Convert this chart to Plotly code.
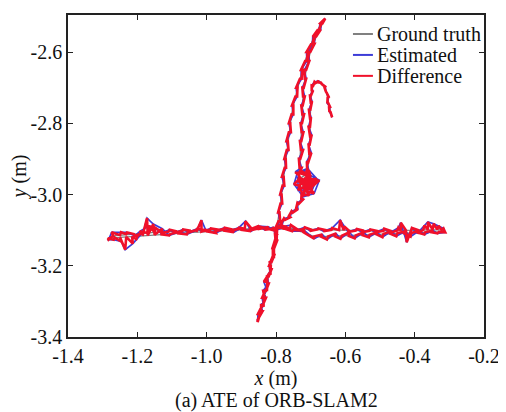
import plotly.graph_objects as go

gt_x = [
    -0.640, -0.643, -0.647, -0.650, -0.651, -0.654, -0.660, -0.668, -0.677, -0.686,
    -0.693, -0.697, -0.699, -0.700, -0.701, -0.702, -0.702, -0.702, -0.703, -0.704,
    -0.707, -0.710,
    -0.700, -0.693, -0.702, -0.718, -0.732, -0.730, -0.715, -0.700, -0.705, -0.722,
    -0.725, -0.710, -0.716,
    -0.708, -0.720, -0.713, -0.704, -0.716, -0.724, -0.710, -0.706,
    -0.712,
    -0.722, -0.727, -0.734, -0.742, -0.752, -0.763, -0.774, -0.786, -0.797,
    -0.780, -0.760, -0.740, -0.720, -0.700, -0.680, -0.660, -0.640, -0.618, -0.605,
    -0.590, -0.570, -0.550, -0.530, -0.510, -0.490, -0.470, -0.450, -0.440, -0.425,
    -0.410, -0.390, -0.375, -0.362, -0.348, -0.335, -0.322, -0.314,
    -0.330, -0.350, -0.370, -0.390, -0.410, -0.430, -0.450, -0.470, -0.490, -0.510,
    -0.530, -0.550, -0.570, -0.590, -0.610, -0.630, -0.650, -0.670, -0.690,
    -0.720, -0.750, -0.775, -0.800, -0.825, -0.850, -0.875, -0.900, -0.925, -0.950,
    -0.975, -1.000, -1.015, -1.030, -1.055, -1.080, -1.105, -1.130, -1.150, -1.170,
    -1.185, -1.200, -1.215, -1.232, -1.250, -1.265, -1.285,
    -1.270, -1.250, -1.230, -1.210, -1.190, -1.170, -1.150, -1.130, -1.110, -1.090,
    -1.070, -1.050, -1.030, -1.010, -0.990, -0.970, -0.950, -0.930, -0.910, -0.890,
    -0.870, -0.850, -0.830, -0.810,
    -0.798, -0.801, -0.805, -0.809, -0.813, -0.817, -0.821, -0.825, -0.829, -0.833,
    -0.838, -0.843, -0.849, -0.853,
    -0.846, -0.840, -0.835, -0.830, -0.825, -0.820, -0.815, -0.810, -0.806, -0.802,
    -0.797, -0.793, -0.790, -0.787, -0.784, -0.781, -0.778, -0.775, -0.772, -0.769,
    -0.766, -0.763, -0.759, -0.755, -0.750, -0.744, -0.738, -0.731, -0.724, -0.716,
    -0.708, -0.699, -0.690, -0.680, -0.670, -0.661,
    -0.666, -0.675, -0.684, -0.693, -0.701, -0.708, -0.713, -0.717, -0.720, -0.722,
    -0.723, -0.724, -0.725, -0.726, -0.727, -0.728, -0.730, -0.732, -0.735,
]
gt_y = [
    -2.780, -2.768, -2.755, -2.742, -2.728, -2.714, -2.700, -2.690, -2.685, -2.687,
    -2.695, -2.708, -2.722, -2.740, -2.762, -2.785, -2.810, -2.835, -2.860, -2.885,
    -2.910, -2.935,
    -2.950, -2.966, -2.983, -2.988, -2.975, -2.954, -2.945, -2.958, -2.976, -2.980,
    -2.960, -2.962, -2.970,
    -2.955, -2.966, -2.978, -2.968, -2.952, -2.972, -2.982, -2.962,
    -2.990,
    -3.000, -3.012, -3.026, -3.039, -3.051, -3.061, -3.071, -3.082, -3.092,
    -3.095, -3.096, -3.097, -3.097, -3.098, -3.098, -3.099, -3.099, -3.100, -3.100,
    -3.101, -3.101, -3.101, -3.102, -3.102, -3.102, -3.102, -3.101, -3.101, -3.101,
    -3.100, -3.100, -3.099, -3.099, -3.098, -3.098, -3.099, -3.102,
    -3.105, -3.106, -3.106, -3.107, -3.108, -3.109, -3.109, -3.110, -3.111, -3.112,
    -3.113, -3.114, -3.115, -3.116, -3.116, -3.117, -3.118, -3.118, -3.118,
    -3.106, -3.099, -3.096, -3.095, -3.096, -3.097, -3.098, -3.099, -3.100, -3.101,
    -3.102, -3.103, -3.104, -3.105, -3.107, -3.109, -3.111, -3.112, -3.113, -3.115,
    -3.116, -3.117, -3.118, -3.119, -3.120, -3.121, -3.123,
    -3.116, -3.114, -3.112, -3.111, -3.109, -3.108, -3.106, -3.105, -3.104, -3.103,
    -3.102, -3.101, -3.100, -3.099, -3.099, -3.098, -3.098, -3.097, -3.097, -3.096,
    -3.096, -3.095, -3.095, -3.096,
    -3.110, -3.130, -3.150, -3.170, -3.190, -3.210, -3.230, -3.250, -3.270, -3.290,
    -3.310, -3.328, -3.345, -3.352,
    -3.335, -3.312, -3.290, -3.268, -3.245, -3.222, -3.200, -3.175, -3.150, -3.125,
    -3.100, -3.075, -3.050, -3.025, -3.000, -2.975, -2.950, -2.925, -2.900, -2.875,
    -2.850, -2.825, -2.800, -2.775, -2.750, -2.725, -2.700, -2.675, -2.650, -2.625,
    -2.600, -2.578, -2.557, -2.538, -2.522, -2.510,
    -2.520, -2.537, -2.556, -2.577, -2.600, -2.625, -2.650, -2.675, -2.700, -2.725,
    -2.750, -2.775, -2.800, -2.825, -2.850, -2.875, -2.900, -2.925, -2.945,
]
# Position error of the estimate for each pose (estimated - ground truth), m
err_x = [
    0.002, -0.003, 0.003, -0.002, 0.003, -0.002, 0.002, -0.002, 0.000, -0.003,
    -0.004, 0.003, -0.003, 0.004, -0.004, 0.003, -0.004, 0.005, -0.003, 0.006,
    -0.004, 0.005,
    -0.030, 0.018, 0.012, -0.004, -0.016, -0.008, 0.006, 0.018, 0.010, -0.014,
    -0.012, 0.008, -0.006,
    0.012, -0.016, 0.004, -0.014, 0.006, 0.014, -0.008, -0.012,
    0.008,
    -0.004, 0.005, -0.004, 0.005, -0.003, 0.004, -0.003, 0.004, -0.003,
    0.002, 0.003, -0.002, 0.003, -0.002, 0.002, -0.003, 0.002, 0.003, 0.002,
    -0.002, 0.003, -0.002, 0.002, -0.003, 0.002, -0.002, 0.003, 0.000, 0.002,
    0.002, -0.002, 0.003, 0.000, 0.003, 0.004, 0.005, 0.002,
    -0.004, 0.003, -0.002, 0.003, -0.002, 0.003, -0.003, 0.002, -0.003, 0.002,
    -0.002, 0.003, -0.003, 0.002, -0.004, 0.003, -0.003, 0.003, 0.000,
    0.003, -0.003, 0.002, -0.004, 0.003, -0.002, 0.003, -0.002, 0.003, -0.002,
    0.002, -0.003, 0.000, 0.003, -0.002, 0.003, -0.003, 0.002, -0.004, -0.002,
    0.003, -0.003, 0.002, -0.003, 0.004, -0.003, 0.002,
    -0.004, 0.003, -0.002, 0.003, -0.002, 0.004, 0.003, -0.002, 0.003, -0.003,
    0.002, -0.002, 0.003, -0.002, 0.002, -0.003, 0.002, -0.002, 0.003, 0.002,
    -0.003, 0.002, -0.003, 0.002,
    -0.005, 0.004, -0.004, 0.004, -0.005, 0.004, -0.005, 0.004, -0.008, 0.004,
    -0.005, 0.004, -0.004, 0.000,
    -0.006, 0.004, -0.005, 0.004, -0.010, 0.004, -0.005, 0.004, -0.004, 0.004,
    -0.006, 0.005, -0.004, 0.005, -0.004, 0.005, -0.005, 0.004, -0.004, 0.005,
    -0.004, 0.006, -0.004, 0.005, -0.004, 0.005, -0.004, 0.005, -0.004, 0.005,
    -0.004, 0.004, -0.004, 0.004, -0.003, 0.003,
    -0.004, 0.004, -0.004, 0.004, -0.004, 0.004, -0.005, 0.004, -0.004, 0.005,
    -0.004, 0.005, -0.004, 0.005, -0.004, 0.006, -0.004, 0.006, -0.010,
]
err_y = [
    -0.003, 0.002, 0.001, -0.002, 0.002, 0.003, 0.003, 0.004, 0.004, 0.003,
    0.001, -0.002, 0.000, 0.002, 0.000, 0.002, 0.000, 0.003, 0.000, 0.002,
    0.003, 0.000,
    0.018, 0.006, -0.014, -0.018, 0.004, 0.016, 0.018, 0.002, -0.010, -0.008,
    0.008, -0.006, 0.010,
    -0.014, 0.004, 0.016, -0.008, -0.018, 0.010, 0.012, -0.006,
    -0.012,
    0.004, -0.002, 0.003, -0.002, 0.004, -0.003, 0.004, -0.002, 0.004,
    0.006, 0.010, -0.004, 0.005, -0.004, 0.003, -0.004, 0.005, 0.028, 0.010,
    -0.004, 0.004, -0.005, 0.004, -0.004, 0.006, -0.006, 0.008, 0.022, -0.033,
    0.006, -0.008, 0.012, 0.022, 0.016, 0.010, 0.004, -0.004,
    -0.004, 0.005, -0.006, 0.005, -0.010, 0.006, -0.008, 0.007, -0.009, 0.006,
    -0.007, 0.008, -0.008, 0.010, -0.008, 0.008, -0.008, 0.006, -0.006,
    0.004, -0.004, 0.005, -0.006, 0.005, 0.008, -0.005, 0.004, -0.006, 0.004,
    -0.006, 0.004, 0.032, 0.006, -0.005, 0.005, -0.004, 0.016, 0.030, 0.049,
    0.012, -0.008, -0.020, -0.036, -0.012, -0.006, -0.004,
    0.010, 0.008, 0.006, -0.005, 0.006, 0.020, 0.012, -0.004, 0.005, -0.005,
    0.004, -0.005, 0.004, -0.004, 0.004, -0.004, 0.005, -0.005, 0.004, 0.021,
    -0.004, 0.005, -0.004, 0.004,
    0.000, 0.000, 0.000, 0.000, 0.000, 0.000, 0.000, 0.000, 0.000, 0.000,
    0.000, 0.000, -0.006, -0.006,
    0.000, 0.000, 0.000, 0.000, 0.000, 0.000, 0.000, 0.000, 0.000, 0.000,
    0.003, 0.000, 0.000, 0.000, 0.000, 0.000, 0.000, 0.000, 0.000, 0.000,
    0.000, 0.000, 0.000, 0.000, 0.000, 0.000, 0.000, 0.000, 0.000, 0.000,
    0.000, 0.000, 0.000, 0.000, 0.002, 0.004,
    0.000, 0.000, 0.000, 0.000, 0.000, 0.000, 0.000, 0.000, 0.000, 0.000,
    0.000, 0.000, 0.000, 0.000, 0.000, 0.000, 0.000, 0.000, 0.008,
]

x_ticks = [-1.4, -1.2, -1.0, -0.8, -0.6, -0.4, -0.2]
x_tick_labels = ["-1.4", "-1.2", "-1.0", "-0.8", "-0.6", "-0.4", "-0.2"]
y_ticks = [-3.4, -3.2, -3.0, -2.8, -2.6]
y_tick_labels = ["-3.4", "-3.2", "-3.0", "-2.8", "-2.6"]

series_names = ["Ground truth", "Estimated", "Difference"]
series_colors = ["#808080", "#3c3cd8", "#f0102a"]

est_x = [g + e for g, e in zip(gt_x, err_x)]
est_y = [g + e for g, e in zip(gt_y, err_y)]

# Difference: links each ground-truth pose with its estimate
diff_x, diff_y = [], []
for gx, gy, ex, ey in zip(gt_x, gt_y, est_x, est_y):
    diff_x += [gx, ex]
    diff_y += [gy, ey]

FONT = "Liberation Serif, Times New Roman, serif"
TXT = "#111111"

fig = go.Figure()
fig.add_trace(go.Scatter(x=gt_x, y=gt_y, mode="lines", name=series_names[0],
                         line=dict(color=series_colors[0], width=1.3), showlegend=False))
fig.add_trace(go.Scatter(x=est_x, y=est_y, mode="lines", name=series_names[1],
                         line=dict(color=series_colors[1], width=1.7), showlegend=False))
fig.add_trace(go.Scatter(x=diff_x, y=diff_y, mode="lines", name=series_names[2],
                         line=dict(color=series_colors[2], width=2.6), showlegend=False))

axis_common = dict(
    showgrid=False, zeroline=False, showline=True, linecolor="#222222",
    linewidth=1.5, mirror="ticks", ticks="inside", ticklen=5, tickwidth=1.3,
    tickcolor="#222222", tickfont=dict(family=FONT, size=20, color=TXT),
    automargin=False,
)
fig.update_xaxes(range=[-1.4, -0.2], tickvals=x_ticks, ticktext=x_tick_labels,
                 title=dict(text="<i>x</i> (m)", font=dict(family=FONT, size=20, color=TXT),
                            standoff=0),
                 **axis_common)
fig.update_yaxes(range=[-3.4, -2.496], tickvals=y_ticks, ticktext=y_tick_labels,
                 title=dict(text="<i>y</i> (m)", font=dict(family=FONT, size=20, color=TXT),
                            standoff=0),
                 **axis_common)

fig.add_annotation(text="(a) ATE of ORB-SLAM2", xref="paper", yref="paper",
                   x=0.502, y=-0.198, xanchor="center", yanchor="middle",
                   showarrow=False, font=dict(family=FONT, size=20, color=TXT))

# Legend (drawn as line samples + text to match the compact original layout)
legend_rows_y = [0.941, 0.876, 0.811]
for name, color, yy in zip(series_names, series_colors, legend_rows_y):
    fig.add_shape(type="line", xref="paper", yref="paper", x0=0.685, x1=0.733,
                  y0=yy, y1=yy, line=dict(color=color, width=2))
    fig.add_annotation(text=name, xref="paper", yref="paper", x=0.738, y=yy,
                       xanchor="left", yanchor="middle", showarrow=False,
                       font=dict(family=FONT, size=20, color=TXT))

# The page body adds an 8 px offset, so the figure is 8 px smaller with
# correspondingly reduced left/top margins.
fig.update_layout(
    width=498, height=404,
    margin=dict(l=60, r=22, t=7, b=75),
    paper_bgcolor="white", plot_bgcolor="white",
    font=dict(family=FONT, color=TXT),
    showlegend=False,
)

fig.write_html("out.html")
